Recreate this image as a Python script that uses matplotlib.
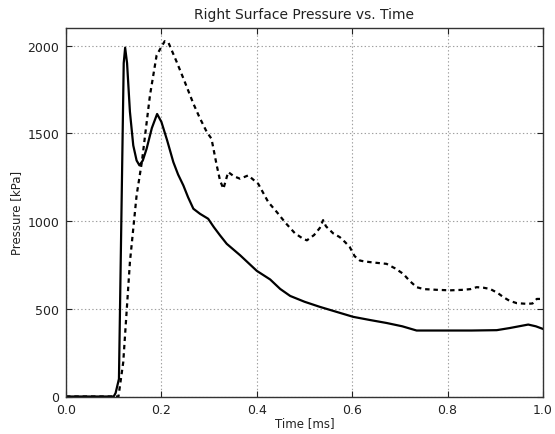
import matplotlib
matplotlib.use("Agg")
import matplotlib.pyplot as plt

# Solid trace: time [ms] and pressure [kPa]
t_solid = [0.0, 0.100, 0.104, 0.111, 0.116, 0.121, 0.124, 0.128, 0.134, 0.141,
           0.148, 0.154, 0.161, 0.169, 0.180, 0.191, 0.200, 0.212, 0.225, 0.235,
           0.246, 0.256, 0.267, 0.281, 0.298, 0.310, 0.323, 0.337, 0.365, 0.400,
           0.428, 0.449, 0.470, 0.500, 0.532, 0.570, 0.602, 0.637, 0.672, 0.705,
           0.735, 0.780, 0.850, 0.903, 0.930, 0.969, 0.985, 1.0]
p_solid = [0, 0, 20, 100, 1000, 1900, 1988, 1900, 1623, 1431,
           1345, 1317, 1345, 1412, 1530, 1610, 1565, 1460, 1336, 1265,
           1203, 1135, 1070, 1041, 1013, 965, 918, 870, 805, 716,
           667, 613, 573, 540, 511, 480, 454, 436, 419, 400,
           376, 376, 376, 378, 390, 410, 400, 385]

# Dashed trace: time [ms] and pressure [kPa]
t_dash = [0.0, 0.110, 0.120, 0.134, 0.148, 0.159, 0.176, 0.190, 0.207, 0.215,
          0.232, 0.248, 0.267, 0.280, 0.295, 0.305, 0.316, 0.323, 0.330, 0.340,
          0.352, 0.365, 0.382, 0.403, 0.424, 0.442, 0.460, 0.480, 0.497, 0.505,
          0.520, 0.532, 0.539, 0.545, 0.560, 0.574, 0.585, 0.595, 0.605, 0.616,
          0.625, 0.637, 0.650, 0.672, 0.690, 0.707, 0.720, 0.735, 0.750, 0.777,
          0.805, 0.833, 0.848, 0.861, 0.875, 0.889, 0.905, 0.917, 0.930, 0.945,
          0.966, 0.978, 0.987, 1.0]
p_dash = [0, 0, 195, 766, 1146, 1336, 1716, 1945, 2025, 2015,
          1907, 1800, 1669, 1590, 1508, 1469, 1317, 1230, 1184, 1279,
          1255, 1241, 1260, 1212, 1108, 1051, 990, 930, 899, 890,
          920, 960, 1005, 970, 930, 908, 880, 851, 800, 775,
          770, 766, 762, 756, 730, 699, 660, 623, 612, 608,
          605, 608, 612, 623, 620, 613, 590, 566, 545, 532,
          528, 530, 556, 556]

# Axis ticks
x_ticks = [0.0, 0.2, 0.4, 0.6, 0.8, 1.0]
x_tick_labels = ["0.0", "0.2", "0.4", "0.6", "0.8", "1.0"]
y_ticks = [0, 500, 1000, 1500, 2000]
y_tick_labels = ["0", "500", "1000", "1500", "2000"]

plt.rcParams["lines.scale_dashes"] = False
plt.rcParams["font.family"] = ["DejaVu Sans"]

fig = plt.figure(figsize=(5.55, 4.35), dpi=100)
ax = fig.add_axes([66 / 555, 1 - 397.5 / 435, (543 - 66) / 555, (397.5 - 29) / 435])

ax.plot(t_solid, p_solid, color="black", linewidth=1.6, linestyle="-")
ax.plot(t_dash, p_dash, color="black", linewidth=1.6, dashes=(3.2, 2.8))

ax.set_xlim(0.0, 1.0)
ax.set_ylim(0, 2100)
ax.set_xticks(x_ticks)
ax.set_xticklabels(x_tick_labels)
ax.set_yticks(y_ticks)
ax.set_yticklabels(y_tick_labels)
ax.tick_params(direction="in", top=True, right=True, labelsize=9,
               colors="#222222", length=4, width=0.8)
ax.tick_params(axis="x", pad=5)
ax.tick_params(axis="y", pad=5)
ax.grid(True, linestyle=":", color="#a0a0a0", linewidth=0.8)

for spine in ax.spines.values():
    spine.set_color("#333333")
    spine.set_linewidth(1.0)

ax.set_xlabel("Time [ms]", fontsize=8.5, color="#222222", labelpad=0)
ax.set_ylabel("Pressure [kPa]", fontsize=8.5, color="#222222", labelpad=3)
ax.set_title("Right Surface Pressure vs. Time", fontsize=10, color="#222222", pad=7)

fig.savefig("out.png", dpi=100)
